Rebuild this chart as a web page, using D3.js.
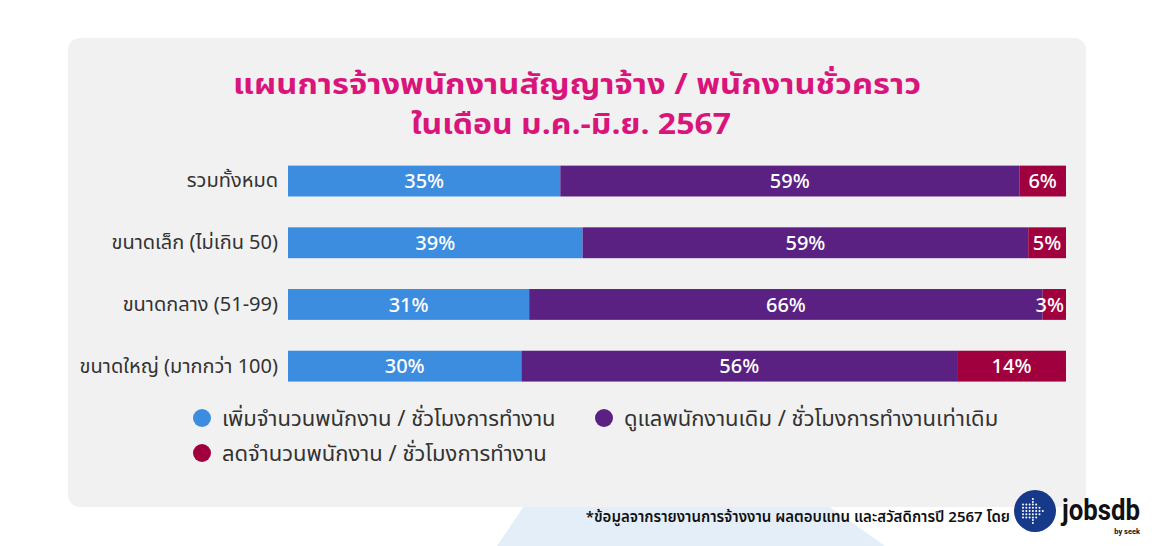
<!DOCTYPE html>
<html>
<head>
<meta charset="utf-8">
<script src="https://cdn.jsdelivr.net/npm/d3@7"></script>
<style>
  body { margin: 0; background: #fff; }
  svg { display: block; font-family: "Noto Sans Thai", "Noto Sans", "Open Sans", sans-serif; }
</style>
</head>
<body>
<script>
// chart data
const categories = ["รวมทั้งหมด", "ขนาดเล็ก (ไม่เกิน 50)", "ขนาดกลาง (51-99)", "ขนาดใหญ่ (มากกว่า 100)"];
const seriesNames = ["เพิ่มจำนวนพนักงาน / ชั่วโมงการทำงาน", "ดูแลพนักงานเดิม / ชั่วโมงการทำงานเท่าเดิม", "ลดจำนวนพนักงาน / ชั่วโมงการทำงาน"];
const increase = [35, 39, 31, 30];
const keep = [59, 59, 66, 56];
const decrease = [6, 5, 3, 14];
const colors = ["#3c8ddf", "#5a2183", "#a1003f"];

const W = 1155, H = 546;
const svg = d3.select("body").append("svg").attr("width", W).attr("height", H);

// decoration behind the card
svg.append("path")
  .attr("d", "M528,500 L820,500 L885,546 L497,546 Z")
  .attr("fill", "#e4eef9");

// card
svg.append("rect").attr("x", 68).attr("y", 38).attr("width", 1018).attr("height", 469)
  .attr("rx", 12).attr("fill", "#f1f1f1");

// title
svg.append("text").attr("x", 577).attr("y", 94).attr("text-anchor", "middle").attr("fill", "#d9157c")
  .attr("font-size", 28).attr("font-weight", 700)
  .attr("textLength", 688).attr("lengthAdjust", "spacingAndGlyphs")
  .text("แผนการจ้างพนักงานสัญญาจ้าง / พนักงานชั่วคราว");
svg.append("text").attr("x", 571).attr("y", 134).attr("text-anchor", "middle").attr("fill", "#d9157c")
  .attr("font-size", 28).attr("font-weight", 700)
  .attr("textLength", 320).attr("lengthAdjust", "spacingAndGlyphs")
  .text("ในเดือน ม.ค.-มิ.ย. 2567");

// scales
const x = d3.scaleLinear().domain([0, 1]).range([288, 1066]);
const y = d3.scaleBand().domain(categories).range([150.2, 397]).paddingInner(0.5).paddingOuter(0.25);

// bars are normalised to the row total (row 2 adds up to 103)
const rows = categories.map((c, i) => {
  const vals = [increase[i], keep[i], decrease[i]];
  const total = d3.sum(vals);
  let acc = 0;
  return vals.map((v, k) => {
    const seg = { cat: c, k, v, x0: acc / total, x1: (acc + v) / total };
    acc += v;
    return seg;
  });
}).flat();

svg.append("g").selectAll("rect")
  .data(rows)
  .join("rect")
  .attr("x", d => x(d.x0))
  .attr("y", d => y(d.cat))
  .attr("width", d => x(d.x1) - x(d.x0))
  .attr("height", y.bandwidth())
  .attr("fill", d => colors[d.k]);

svg.append("g").selectAll("text")
  .data(rows)
  .join("text")
  .attr("x", d => d.k === 2 && d.v < 5 ? x(d.x1) - 2 : (x(d.x0) + x(d.x1)) / 2)
  .attr("y", d => y(d.cat) + y.bandwidth() / 2)
  .attr("dy", "0.36em")
  .attr("text-anchor", d => d.k === 2 && d.v < 5 ? "end" : "middle")
  .attr("fill", "#fff")
  .attr("font-size", 20)
  .attr("font-weight", 500)
  .text(d => d.v + "%");

// category axis
const yAxis = svg.append("g").attr("transform", "translate(280,0)")
  .call(d3.axisLeft(y).tickSize(0).tickPadding(2));
yAxis.select(".domain").remove();
yAxis.selectAll("text").attr("font-size", 20).attr("fill", "#333")
  .attr("font-family", "\"Noto Sans Thai\", \"Noto Sans\", sans-serif");

// legend
const legendPos = [[202, 418], [604, 418], [202, 453]];
const lg = svg.append("g").selectAll("g")
  .data(seriesNames)
  .join("g")
  .attr("transform", (d, i) => `translate(${legendPos[i][0]},${legendPos[i][1]})`);
lg.append("circle").attr("r", 9).attr("fill", (d, i) => colors[i]);
lg.append("text").attr("x", 20).attr("dy", "0.36em").attr("font-size", 22).attr("fill", "#333").text(d => d);

// footnote
svg.append("text").attr("x", 1010).attr("y", 522).attr("text-anchor", "end")
  .attr("font-size", 15).attr("font-weight", 600).attr("fill", "#111")
  .text("*ข้อมูลจากรายงานการจ้างงาน ผลตอบแทน และสวัสดิการปี 2567 โดย");

// logo
const logo = svg.append("g").attr("transform", "translate(1035,511)");
logo.append("circle").attr("r", 21).attr("fill", "#17398a");
const dots = [];
for (let c = 0; c < 7; c++) {
  const half = c < 4 ? 2 : 6 - c;
  for (let r = -half; r <= half; r++) dots.push([c * 3.3 - 12, r * 3.3]);
}
for (let r = -4; r <= 4; r++) if (Math.abs(r) > 2) dots.push([3 * 3.3 - 12, r * 3.3 * 0.9]);
logo.selectAll("circle.dot").data(dots).join("circle").attr("class", "dot")
  .attr("cx", d => d[0]).attr("cy", d => d[1]).attr("r", 1).attr("fill", "#fff");
svg.append("text").attr("x", 1062).attr("y", 520).attr("font-size", 30).attr("font-weight", 700)
  .attr("fill", "#111").attr("font-family", "Roboto, sans-serif")
  .attr("textLength", 78).attr("lengthAdjust", "spacingAndGlyphs").text("jobsdb");
svg.append("text").attr("x", 1140).attr("y", 534).attr("text-anchor", "end").attr("font-size", 7.5)
  .attr("font-weight", 700).attr("fill", "#111").attr("font-family", "Roboto, sans-serif").text("by seek");
</script>
</body>
</html>
